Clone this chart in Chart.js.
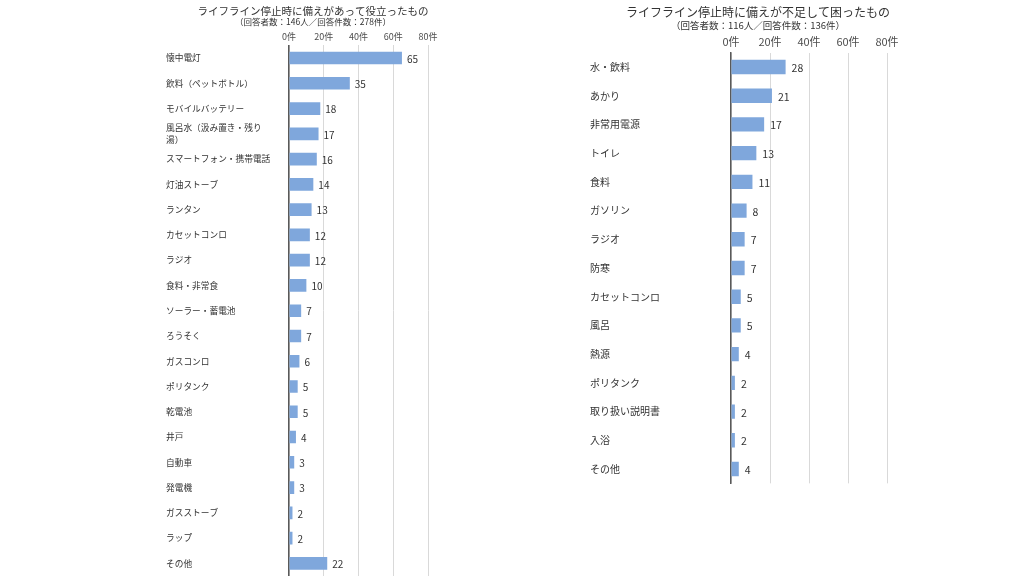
<!DOCTYPE html>
<html>
<head>
<meta charset="utf-8">
<script src="https://cdn.jsdelivr.net/npm/chart.js@4.4.1/dist/chart.umd.min.js"></script>
<style>
  html, body { margin: 0; padding: 0; background: #fff; }
  body { width: 1024px; height: 576px; position: relative; overflow: hidden; }
  canvas { position: absolute; top: 0; }
</style>
</head>
<body>
<canvas id="leftChart" width="512" height="576" style="left:0"></canvas>
<canvas id="rightChart" width="512" height="576" style="left:512px"></canvas>
<script>
// data
const leftTitle = 'ライフライン停止時に備えがあって役立ったもの';
const leftSubtitle = '（回答者数：146人／回答件数：278件）';
const leftLabels = ['懐中電灯', '飲料（ペットボトル）', 'モバイルバッテリー', ['風呂水（汲み置き・残り', '湯）'],
  'スマートフォン・携帯電話', '灯油ストーブ', 'ランタン', 'カセットコンロ', 'ラジオ', '食料・非常食',
  'ソーラー・蓄電池', 'ろうそく', 'ガスコンロ', 'ポリタンク', '乾電池', '井戸', '自動車', '発電機',
  'ガスストーブ', 'ラップ', 'その他'];
const leftValues = [65, 35, 18, 17, 16, 14, 13, 12, 12, 10, 7, 7, 6, 5, 5, 4, 3, 3, 2, 2, 22];

const rightTitle = 'ライフライン停止時に備えが不足して困ったもの';
const rightSubtitle = '（回答者数：116人／回答件数：136件）';
const rightLabels = ['水・飲料', 'あかり', '非常用電源', 'トイレ', '食料', 'ガソリン', 'ラジオ', '防寒',
  'カセットコンロ', '風呂', '熱源', 'ポリタンク', '取り扱い説明書', '入浴', 'その他'];
const rightValues = [28, 21, 17, 13, 11, 8, 7, 7, 5, 5, 4, 2, 2, 2, 4];

const axisMin = 0;
const axisMax = 80;
const axisStep = 20;
const tickUnit = '件';

const FONT = "'Noto Sans CJK JP', 'Noto Sans', sans-serif";
const BAR_COLOR = '#7fa7dc';
const TEXT_COLOR = '#333333';

// titles drawn above the plot
const headingPlugin = {
  id: 'heading',
  afterDraw(chart, args, opts) {
    const ctx = chart.ctx;
    ctx.save();
    ctx.fillStyle = TEXT_COLOR;
    ctx.textAlign = 'center';
    ctx.textBaseline = 'middle';
    ctx.font = opts.titleSize + 'px ' + FONT;
    ctx.fillText(opts.title, opts.x, opts.titleY);
    ctx.font = opts.subSize + 'px ' + FONT;
    ctx.fillText(opts.subtitle, opts.x, opts.subY);
    ctx.restore();
  }
};

// value labels at the bar ends
const valueLabels = {
  id: 'valueLabels',
  afterDatasetsDraw(chart, args, opts) {
    const ctx = chart.ctx;
    const meta = chart.getDatasetMeta(0);
    const data = chart.data.datasets[0].data;
    ctx.save();
    ctx.fillStyle = TEXT_COLOR;
    ctx.font = opts.size + 'px ' + FONT;
    ctx.textAlign = 'left';
    ctx.textBaseline = 'middle';
    meta.data.forEach((bar, i) => {
      ctx.fillText(data[i], bar.x + opts.gap, bar.y + 1);
    });
    ctx.restore();
  }
};

function makeChart(id, labels, values, cfg) {
  return new Chart(document.getElementById(id).getContext('2d'), {
    type: 'bar',
    data: {
      labels: labels,
      datasets: [{
        data: values,
        backgroundColor: BAR_COLOR,
        borderWidth: 0,
        barPercentage: 0.5,
        categoryPercentage: 1
      }]
    },
    options: {
      indexAxis: 'y',
      responsive: false,
      animation: false,
      layout: { padding: cfg.padding },
      plugins: {
        legend: { display: false },
        tooltip: { enabled: false },
        heading: cfg.heading,
        valueLabels: { size: cfg.valueSize, gap: cfg.valueGap }
      },
      scales: {
        x: {
          position: 'top',
          min: axisMin,
          max: axisMax,
          ticks: {
            stepSize: axisStep,
            padding: cfg.tickPad,
            color: '#4d4d4d',
            font: { family: FONT, size: cfg.tickSize },
            callback: v => v + tickUnit
          },
          grid: { color: '#d9d9d9', lineWidth: 1, drawTicks: false },
          border: { display: false },
          afterFit: s => { s.height = cfg.xHeight; }
        },
        y: {
          ticks: {
            autoSkip: false,
            crossAlign: 'far',
            padding: 0,
            color: TEXT_COLOR,
            font: { family: FONT, size: cfg.labelSize, lineHeight: 1.3 }
          },
          grid: { display: false },
          border: { display: true, color: '#595959', width: 1.5 },
          afterFit: s => {
            s.width = cfg.yWidth;
            s.paddingTop = 0;
            s.paddingBottom = 0;
          }
        }
      }
    },
    plugins: [headingPlugin, valueLabels]
  });
}

makeChart('leftChart', leftLabels, leftValues, {
  padding: { left: 166, right: 84, top: 20, bottom: 0 },
  xHeight: 25.4,
  yWidth: 123,
  tickPad: 3,
  tickSize: 9,
  labelSize: 8.7,
  valueSize: 10,
  valueGap: 5,
  heading: { title: leftTitle, subtitle: leftSubtitle, x: 313, titleY: 11, subY: 22, titleSize: 10.5, subSize: 8.5 }
});

makeChart('rightChart', rightLabels, rightValues, {
  padding: { left: 78, right: 137, top: 24, bottom: 92.65 },
  xHeight: 28.65,
  yWidth: 141,
  tickPad: 4,
  tickSize: 11,
  labelSize: 10,
  valueSize: 10.5,
  valueGap: 6,
  heading: { title: rightTitle, subtitle: rightSubtitle, x: 246, titleY: 12.5, subY: 25, titleSize: 12, subSize: 9.5 }
});
</script>
</body>
</html>
